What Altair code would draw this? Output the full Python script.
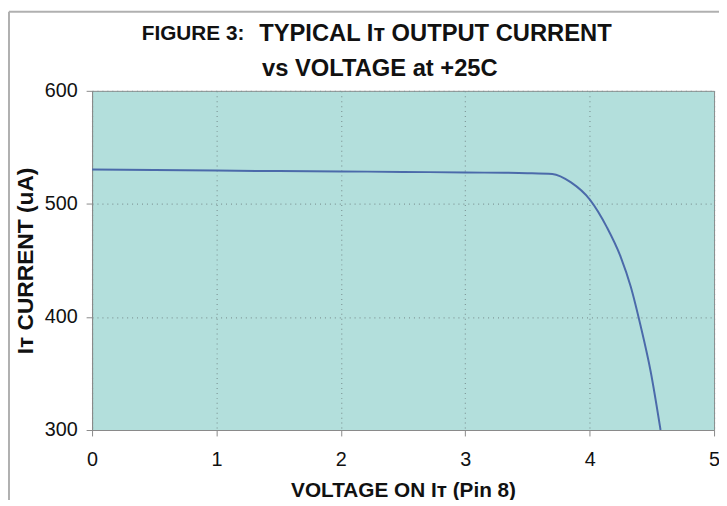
import altair as alt
import pandas as pd

# data
voltage = [0.0, 0.5, 1.0, 1.5, 2.0, 2.5, 3.0, 3.5, 3.7, 3.85, 4.0, 4.14, 4.25, 4.33, 4.41, 4.49, 4.57]
current = [530.5, 530, 529.5, 529, 528.7, 528.3, 527.8, 527.2, 526.5, 519, 504, 479, 453, 427, 392, 352, 300]
x_ticks = [0, 1, 2, 3, 4, 5]
y_ticks = [300, 400, 500, 600]
title_fig = "FIGURE 3:"
title_rest = "TYPICAL Iᴛ OUTPUT CURRENT"
title_line2 = "vs VOLTAGE at +25C"

df = pd.DataFrame({"V": voltage, "I": current})

FONT = "Liberation Sans"

line = alt.Chart(df).mark_line(
    color="#4b6aaa", strokeWidth=2, interpolate="monotone", clip=True
).encode(
    x=alt.X("V:Q", scale=alt.Scale(domain=[0, 5], nice=False),
            axis=alt.Axis(values=x_ticks, title="VOLTAGE ON Iᴛ (Pin 8)", format="d",
                          grid=True, gridDash=[1, 4], gridColor="#7f9797", gridWidth=1.2,
                          tickSize=6, tickColor="#8a8a8a", domainColor="#8a8a8a",
                          labelFontSize=20, labelPadding=14, labelColor="#111",
                          labelFlush=False, labelOverlap=False,
                          titleFontSize=21, titleFontWeight="bold", titlePadding=10,
                          titleColor="#111", labelFont=FONT, titleFont=FONT)),
    y=alt.Y("I:Q", scale=alt.Scale(domain=[300, 600], nice=False),
            axis=alt.Axis(values=y_ticks, title="Iᴛ CURRENT (uA)",
                          grid=True, gridDash=[1, 4], gridColor="#7f9797", gridWidth=1.2,
                          tickSize=6, tickColor="#8a8a8a", domainColor="#8a8a8a",
                          labelFontSize=20, labelPadding=9, labelColor="#111",
                          labelFlush=False, labelOverlap=False,
                          titleFontSize=23, titleFontWeight="bold", titlePadding=7,
                          titleColor="#111", labelFont=FONT, titleFont=FONT)),
)

frame_v = alt.Chart().mark_rule(color="#b0b0b0", strokeWidth=2, clip=False).encode(
    x=alt.value(-84), y=alt.value(-80), y2=alt.value(420))
frame_h = alt.Chart().mark_rule(color="#b0b0b0", strokeWidth=2, clip=False).encode(
    x=alt.value(-84), x2=alt.value(640), y=alt.value(-80))

t_fig = alt.Chart().mark_text(
    text=title_fig, font=FONT, fontSize=21, fontWeight="bold", color="#111",
    align="right", baseline="middle", clip=False
).encode(x=alt.value(154), y=alt.value(-57))
t_rest = alt.Chart().mark_text(
    text=title_rest, font=FONT, fontSize=24, fontWeight="bold", color="#111",
    align="left", baseline="middle", clip=False
).encode(x=alt.value(169), y=alt.value(-57))
t_line2 = alt.Chart().mark_text(
    text=title_line2, font=FONT, fontSize=24, fontWeight="bold", color="#111",
    align="center", baseline="middle", clip=False
).encode(x=alt.value(291), y=alt.value(-22))

chart = alt.layer(frame_v, frame_h, line, t_fig, t_rest, t_line2).properties(
    width=629, height=343,
    autosize=alt.AutoSizeParams(type="none"),
    padding={"left": 85, "top": 81, "right": 5, "bottom": 68},
    background="white",
).configure_view(
    fill="#b3dfdc", stroke="#8a8a8a", strokeWidth=1
)

chart.save("out.html", embed_options={"renderer": "svg", "actions": False})
